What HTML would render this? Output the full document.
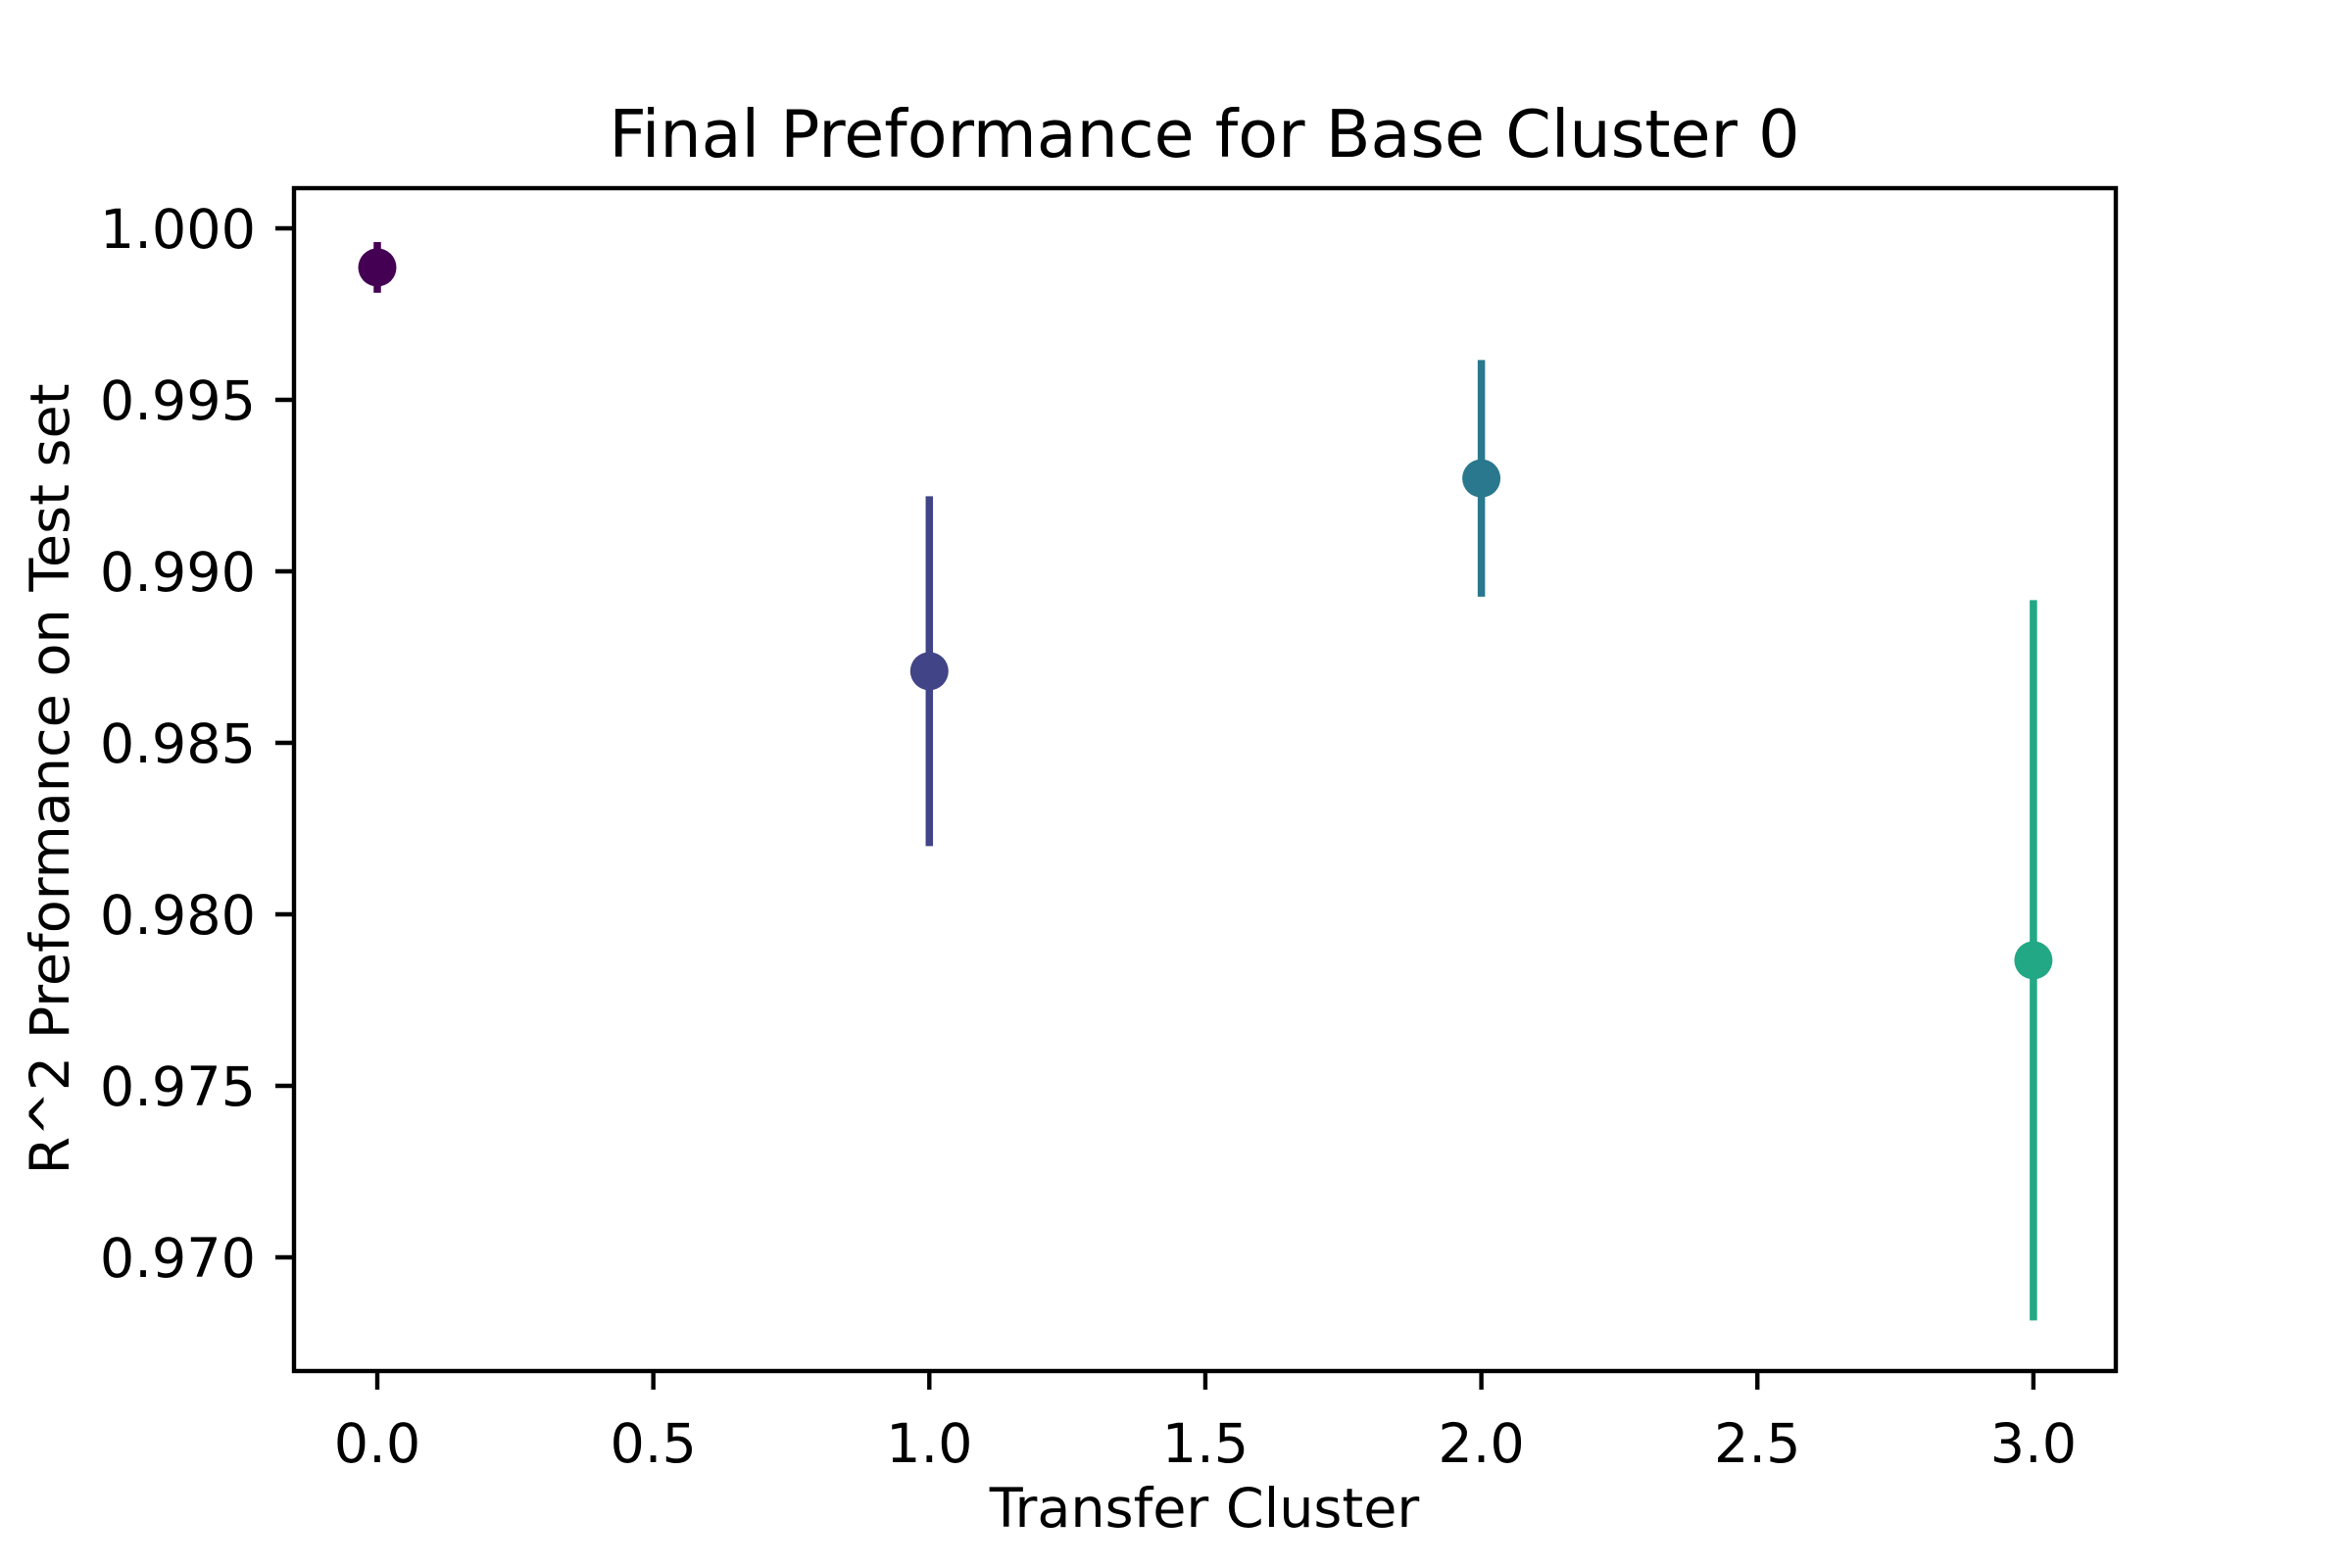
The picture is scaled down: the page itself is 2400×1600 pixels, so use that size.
<!DOCTYPE html>
<html><head><meta charset="utf-8"><style>
html,body{margin:0;padding:0;background:#fff;}
svg{display:block;font-family:"DejaVu Sans","Liberation Sans",sans-serif;}
</style></head><body>
<svg id="chart" width="2400" height="1600" viewBox="0 0 2400 1600" xmlns="http://www.w3.org/2000/svg">
<rect width="2400" height="1600" fill="#fff"/>
<text x="1229" y="160" font-size="66.7" text-anchor="middle">Final Preformance for Base Cluster 0</text>
<text x="1229" y="1558" font-size="55.6" text-anchor="middle">Transfer Cluster</text>
<text transform="translate(70,795) rotate(-90)" font-size="55.6" text-anchor="middle">R^2 Preformance on Test set</text>
<g id="ticks"></g>
<g id="marks"></g>
<rect x="300" y="192" width="1859" height="1207" fill="none" stroke="#000" stroke-width="4.4"/>
</svg>
<script>
const categories = [0, 1, 2, 3];
const means = [0.99886, 0.98709, 0.99271, 0.97866];
const errors = [0.00074, 0.0051, 0.00345, 0.0105];
const colors = ["#440154", "#414487", "#2a788e", "#22a884"];
const xTicks = [0.0, 0.5, 1.0, 1.5, 2.0, 2.5, 3.0];
const yTicks = [0.970, 0.975, 0.980, 0.985, 0.990, 0.995, 1.000];

const X = v => 385 + v * 563.3;
const Y = v => 233 + (1.0 - v) * 35000;
const NS = "http://www.w3.org/2000/svg";
const mk = (t, a, p) => { const e = document.createElementNS(NS, t); for (const k in a) e.setAttribute(k, a[k]); p.appendChild(e); return e; };
const tg = document.getElementById('ticks');
const mg = document.getElementById('marks');

xTicks.forEach(v => {
  const l = mk('line', {x1: X(v), x2: X(v), y1: 1399, y2: 1418, stroke: '#000', 'stroke-width': 4.4}, tg);
  
  
  const t = mk('text', {x: X(v), y: 1492, 'font-size': 55.6, 'text-anchor': 'middle'}, tg);
  t.textContent = v.toFixed(1);
  
  
});
yTicks.forEach(v => {
  const l = mk('line', {x1: 281, x2: 300, y1: Y(v), y2: Y(v), stroke: '#000', 'stroke-width': 4.4}, tg);
  
  
  const t = mk('text', {x: 261, y: Y(v) + 20, 'font-size': 55.6, 'text-anchor': 'end'}, tg);
  t.textContent = v.toFixed(3);
  
  
});
categories.forEach((c, i) => {
  const e = mk('line', {x1: X(c), x2: X(c), y1: Y(means[i] + errors[i]), y2: Y(means[i] - errors[i]), stroke: colors[i], 'stroke-width': 7.5}, mg);
  
  
  const p = mk('circle', {cx: X(c), cy: Y(means[i]), r: 19.5, fill: colors[i]}, mg);
  
  
});
</script>
</body></html>
